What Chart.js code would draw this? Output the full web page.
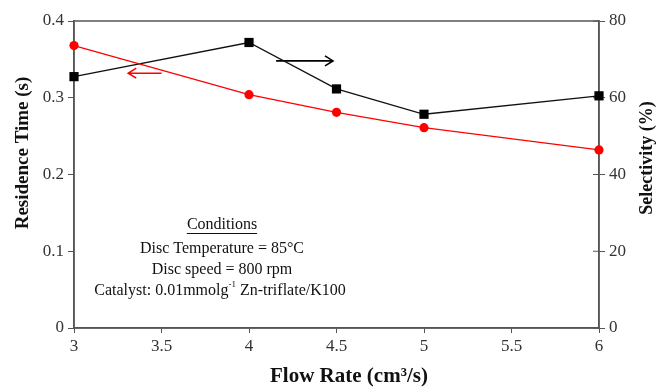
<!DOCTYPE html>
<html>
<head>
<meta charset="utf-8">
<script src="https://cdn.jsdelivr.net/npm/chart.js@4/dist/chart.umd.min.js"></script>
<style>
  html, body { margin: 0; padding: 0; background: #fff; }
  #wrap { width: 658px; height: 390px; }
</style>
</head>
<body>
<div id="wrap"><canvas id="canvas" width="658" height="390"></canvas></div>
<script>
// MARK: Data
const flowRates = [3, 4, 4.5, 5, 6];
const residenceTime = [0.368, 0.304, 0.281, 0.261, 0.232];
const selectivity = [65.5, 74.4, 62.3, 55.7, 60.5];

const xTicks = [3, 3.5, 4, 4.5, 5, 5.5, 6];
const leftTicks = [0, 0.1, 0.2, 0.3, 0.4];
const rightTicks = [0, 20, 40, 60, 80];

const xTitle = 'Flow Rate (cm³/s)';
const leftTitle = 'Residence Time (s)';
const rightTitle = 'Selectivity (%)';

const conditionLines = [
  'Disc Temperature = 85°C',
  'Disc speed = 800 rpm'
];

const SERIF = '"Liberation Serif", "Times New Roman", serif';
const AXIS = '#555';

// arrows pointing each series to its own axis (data units)
const arrows = [
  { axis: 'y1', from: [4.155, 69.6], to: [4.48, 69.6], color: '#000' },
  { axis: 'y', from: [3.5, 0.332], to: [3.31, 0.332], color: '#ff0000' }
];

function drawArrow(ctx, x1, y1, x2, y2, color) {
  const dir = Math.sign(x2 - x1);
  ctx.save();
  ctx.strokeStyle = color;
  ctx.lineWidth = 1.6;
  ctx.beginPath();
  ctx.moveTo(x1, y1);
  ctx.lineTo(x2, y2);
  ctx.moveTo(x2 - dir * 8, y2 - 5);
  ctx.lineTo(x2, y2);
  ctx.lineTo(x2 - dir * 8, y2 + 5);
  ctx.stroke();
  ctx.restore();
}

function rotatedText(ctx, text, x, y) {
  ctx.save();
  ctx.translate(x, y);
  ctx.rotate(-Math.PI / 2);
  ctx.fillText(text, 0, 0);
  ctx.restore();
}

// MARK: Frame, axis titles, right-axis inner ticks, notes
const extras = {
  id: 'extras',
  beforeDatasetsDraw(chart) {
    const { ctx, chartArea: a, scales } = chart;
    ctx.save();
    ctx.strokeStyle = AXIS;
    ctx.lineWidth = 1.5;
    ctx.strokeRect(a.left, a.top, a.right - a.left, a.bottom - a.top);

    // right axis ticks also cross inward
    ctx.lineWidth = 1;
    ctx.beginPath();
    rightTicks.forEach(v => {
      const y = scales.y1.getPixelForValue(v);
      ctx.moveTo(a.right - 6, y);
      ctx.lineTo(a.right, y);
    });
    ctx.stroke();

    // axis titles
    ctx.fillStyle = '#111';
    ctx.textAlign = 'center';
    ctx.textBaseline = 'middle';
    ctx.font = 'bold 21px ' + SERIF;
    ctx.fillText(xTitle, 349, 377);
    ctx.font = 'bold 19px ' + SERIF;
    rotatedText(ctx, leftTitle, 23, 153);
    ctx.font = 'bold 18px ' + SERIF;
    rotatedText(ctx, rightTitle, 647, 158);
    ctx.restore();

    arrows.forEach(ar => {
      drawArrow(ctx,
        scales.x.getPixelForValue(ar.from[0]), scales[ar.axis].getPixelForValue(ar.from[1]),
        scales.x.getPixelForValue(ar.to[0]), scales[ar.axis].getPixelForValue(ar.to[1]),
        ar.color);
    });

    // conditions block
    const cx = 222;
    ctx.save();
    ctx.fillStyle = '#111';
    ctx.textAlign = 'center';
    ctx.textBaseline = 'middle';
    ctx.font = '16px ' + SERIF;
    const head = 'Conditions';
    ctx.fillText(head, cx, 225);
    const hw = ctx.measureText(head).width;
    ctx.strokeStyle = '#111';
    ctx.lineWidth = 1;
    ctx.beginPath();
    ctx.moveTo(cx - hw / 2, 233.5);
    ctx.lineTo(cx + hw / 2, 233.5);
    ctx.stroke();
    conditionLines.forEach((t, i) => ctx.fillText(t, cx, 249 + i * 21));

    // catalyst line with superscript
    const p1 = 'Catalyst: 0.01mmolg';
    const sup = '-1';
    const p2 = ' Zn-triflate/K100';
    ctx.textAlign = 'left';
    const w1 = ctx.measureText(p1).width;
    const w3 = ctx.measureText(p2).width;
    ctx.font = '9px ' + SERIF;
    const w2 = ctx.measureText(sup).width;
    let x = 220 - (w1 + w2 + w3) / 2;
    ctx.font = '16px ' + SERIF;
    ctx.fillText(p1, x, 291);
    x += w1;
    ctx.font = '9px ' + SERIF;
    ctx.fillText(sup, x, 285);
    x += w2;
    ctx.font = '16px ' + SERIF;
    ctx.fillText(p2, x, 291);
    ctx.restore();
  }
};

// MARK: Chart
const ctx = document.getElementById('canvas').getContext('2d');
const plainLabel = v => String(v);

new Chart(ctx, {
  type: 'line',
  data: {
    datasets: [
      {
        label: 'Residence Time',
        data: flowRates.map((f, i) => ({ x: f, y: residenceTime[i] })),
        yAxisID: 'y',
        borderColor: '#ff0000',
        backgroundColor: '#ff0000',
        borderWidth: 1.3,
        pointStyle: 'circle',
        pointRadius: 4.6,
        pointBorderWidth: 0,
        tension: 0,
        clip: false
      },
      {
        label: 'Selectivity',
        data: flowRates.map((f, i) => ({ x: f, y: selectivity[i] })),
        yAxisID: 'y1',
        borderColor: '#111',
        backgroundColor: '#000',
        borderWidth: 1.3,
        pointStyle: 'rect',
        pointRadius: 6.5,
        pointBorderWidth: 0,
        tension: 0,
        clip: false
      }
    ]
  },
  options: {
    responsive: false,
    animation: false,
    layout: { padding: { top: 21, right: 0, left: 0, bottom: 0 } },
    plugins: {
      legend: { display: false },
      tooltip: { enabled: false }
    },
    scales: {
      x: {
        type: 'linear',
        min: 3,
        max: 6,
        afterFit: s => { s.height = 62; },
        afterBuildTicks: s => { s.ticks = xTicks.map(v => ({ value: v })); },
        grid: { drawOnChartArea: false, drawTicks: true, tickLength: 5, color: AXIS },
        border: { display: true, color: AXIS, width: 1.5 },
        ticks: { padding: 3, color: '#333', font: { family: SERIF, size: 17 }, callback: plainLabel }
      },
      y: {
        position: 'left',
        min: 0,
        max: 0.4,
        afterFit: s => { s.width = 74; },
        afterBuildTicks: s => { s.ticks = leftTicks.map(v => ({ value: v })); },
        grid: { drawOnChartArea: false, drawTicks: true, tickLength: 6, color: AXIS },
        border: { display: true, color: AXIS, width: 1.5 },
        ticks: { padding: 4, color: '#333', font: { family: SERIF, size: 17 }, callback: plainLabel }
      },
      y1: {
        position: 'right',
        min: 0,
        max: 80,
        afterFit: s => { s.width = 59; },
        afterBuildTicks: s => { s.ticks = rightTicks.map(v => ({ value: v })); },
        grid: { drawOnChartArea: false, drawTicks: true, tickLength: 6, color: AXIS },
        border: { display: true, color: AXIS, width: 1.5 },
        ticks: { padding: 4, color: '#333', font: { family: SERIF, size: 17 }, callback: plainLabel }
      }
    }
  },
  plugins: [extras]
});
</script>
</body>
</html>
